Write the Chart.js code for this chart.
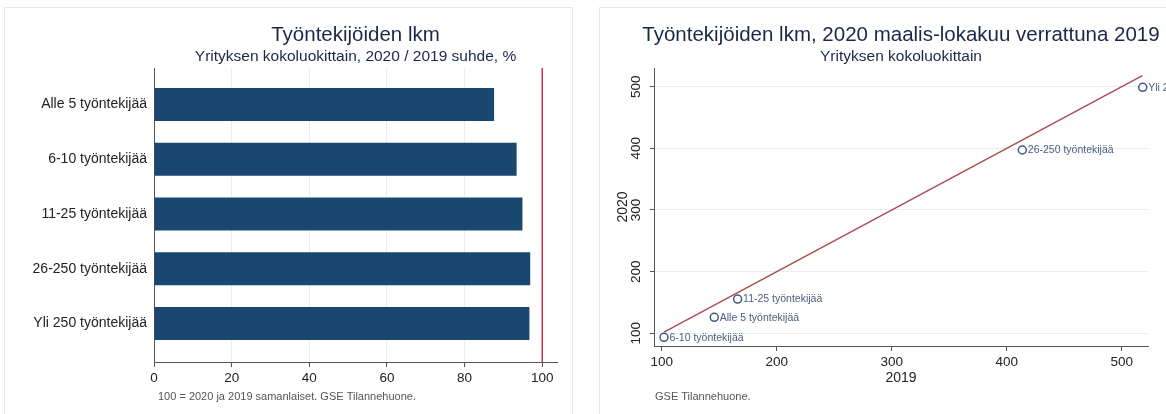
<!DOCTYPE html>
<html>
<head>
<meta charset="utf-8">
<script src="https://cdn.jsdelivr.net/npm/chart.js@4.4.0/dist/chart.umd.min.js"></script>
<style>
  body { margin: 0; background: #fff; width: 1166px; height: 414px; overflow: hidden; position: relative; }
  .panel { position: absolute; top: 7px; height: 420px; border: 1px solid #e3e9ec; box-sizing: border-box; }
  canvas { position: absolute; top: 0; }
</style>
</head>
<body>
<div class="panel" style="left:4px;width:569px"></div>
<div class="panel" style="left:599px;width:600px"></div>
<canvas id="ratioChart" width="580" height="414" style="left:0"></canvas>
<canvas id="scatterChart" width="580" height="414" style="left:586px"></canvas>
<script>
// size classes (same order in both panels)
const sizeClasses = ['Alle 5 työntekijää', '6-10 työntekijää', '11-25 työntekijää', '26-250 työntekijää', 'Yli 250 työntekijää'];

// left: 2020 / 2019 ratio, %
const ratioPct = [87.6, 93.4, 94.9, 96.9, 96.7];
const ratioTicks = [0, 20, 40, 60, 80, 100];
const sameLevel = 100;

// right: employee index 2019 vs 2020
const emp2019 = [145.7, 102, 166, 413.6, 518.3];
const emp2020 = [126, 93.5, 155.6, 397.3, 498.9];
const diagonal = [102, 518];
const scatterTicks = [100, 200, 300, 400, 500];

const FONT = '"Liberation Sans", Arial, sans-serif';
Chart.defaults.font.family = FONT;
Chart.defaults.color = '#222';

// titles + footnote, centred on the plot area
const notes = {
  id: 'notes',
  afterDraw(chart, args, opts) {
    const ctx = chart.ctx;
    const area = chart.chartArea;
    const cx = (area.left + area.right) / 2;
    ctx.save();
    ctx.textBaseline = 'middle';
    ctx.textAlign = 'center';
    ctx.fillStyle = '#1b2748';
    ctx.font = '20.5px ' + FONT;
    ctx.fillText(opts.title, cx, 35);
    ctx.font = '15.5px ' + FONT;
    ctx.fillText(opts.subtitle, cx, 57);
    ctx.textAlign = 'left';
    ctx.fillStyle = '#555';
    ctx.font = '11px ' + FONT;
    ctx.fillText(opts.footnote, area.left + opts.footX, 397);
    ctx.restore();
  }
};

// labels next to the scatter points
const pointLabels = {
  id: 'pointLabels',
  afterDatasetsDraw(chart) {
    const ctx = chart.ctx;
    const meta = chart.getDatasetMeta(0);
    ctx.save();
    ctx.font = '10.5px ' + FONT;
    ctx.fillStyle = '#4a5d7e';
    ctx.textBaseline = 'middle';
    meta.data.forEach((pt, i) => ctx.fillText(sizeClasses[i], pt.x + 5.5, pt.y + 0.5));
    ctx.restore();
  }
};

new Chart(document.getElementById('ratioChart'), {
  type: 'bar',
  data: {
    datasets: [{
      data: ratioPct.map((v, i) => ({ x: v, y: i })),
      backgroundColor: '#1a476f',
      categoryPercentage: 1,
      barPercentage: 0.6
    }, {
      type: 'line',
      data: [{ x: sameLevel, y: -0.667 }, { x: sameLevel, y: 4.703 }],
      borderColor: '#d8314f',
      borderWidth: 1.5,
      pointRadius: 0
    }]
  },
  options: {
    indexAxis: 'y',
    responsive: false,
    animation: false,
    layout: { padding: { top: 68, left: 0, right: 23, bottom: 22 } },
    plugins: {
      legend: { display: false },
      tooltip: { enabled: false },
      notes: {
        title: 'Työntekijöiden lkm',
        subtitle: 'Yrityksen kokoluokittain, 2020 / 2019 suhde, %',
        footnote: '100 = 2020 ja 2019 samanlaiset. GSE Tilannehuone.',
        footX: 4
      }
    },
    scales: {
      x: {
        type: 'linear',
        min: 0,
        max: 103.8,
        afterBuildTicks: ax => { ax.ticks = ratioTicks.map(v => ({ value: v })); },
        afterFit: ax => { ax.height = 30; },
        grid: { color: '#e6eef1', tickColor: '#555', tickLength: 5 },
        border: { color: '#555' },
        ticks: { font: { size: 13.5 }, padding: 3, maxRotation: 0 }
      },
      y: {
        type: 'linear',
        offset: false,
        reverse: true,
        min: -0.667,
        max: 4.703,
        afterBuildTicks: ax => { ax.ticks = sizeClasses.map((c, i) => ({ value: i })); },
        afterFit: ax => { ax.width = 154; },
        grid: { display: false, drawTicks: false, offset: false },
        border: { display: true, color: '#555' },
        ticks: { callback: v => sizeClasses[v], font: { size: 14 }, padding: 7 }
      }
    }
  },
  plugins: [notes]
});

new Chart(document.getElementById('scatterChart'), {
  type: 'scatter',
  data: {
    datasets: [{
      data: emp2019.map((v, i) => ({ x: v, y: emp2020[i] })),
      pointRadius: 4,
      pointBorderWidth: 1.5,
      pointBorderColor: '#3e5a80',
      pointBackgroundColor: 'rgba(0,0,0,0)'
    }, {
      type: 'line',
      data: diagonal.map(v => ({ x: v, y: v })),
      borderColor: '#ad4d52',
      borderWidth: 1.5,
      pointRadius: 0
    }]
  },
  options: {
    responsive: false,
    animation: false,
    layout: { padding: { top: 68, left: 0, right: 18, bottom: 26 } },
    plugins: {
      legend: { display: false },
      tooltip: { enabled: false },
      notes: {
        title: 'Työntekijöiden lkm, 2020 maalis-lokakuu verrattuna 2019',
        subtitle: 'Yrityksen kokoluokittain',
        footnote: 'GSE Tilannehuone.',
        footX: 1
      }
    },
    scales: {
      x: {
        min: 93.3,
        max: 522.9,
        afterBuildTicks: ax => { ax.ticks = scatterTicks.map(v => ({ value: v })); },
        afterFit: ax => { ax.height = 42; },
        grid: { drawOnChartArea: false, tickColor: '#555', tickLength: 5 },
        border: { color: '#555' },
        ticks: { font: { size: 13.5 }, padding: 3, maxRotation: 0 },
        title: { display: true, text: '2019', font: { size: 14 }, padding: { top: 0, bottom: 1.6 } }
      },
      y: {
        min: 79.4,
        max: 530.3,
        afterBuildTicks: ax => { ax.ticks = scatterTicks.map(v => ({ value: v })); },
        afterFit: ax => { ax.width = 68; },
        grid: { color: '#e6eef1', tickColor: '#555', tickLength: 4 },
        border: { color: '#555' },
        ticks: { font: { size: 13.5 }, minRotation: 90, maxRotation: 90, crossAlign: 'center', padding: 2.5 },
        title: { display: true, text: '2020', font: { size: 14 }, padding: { top: 28.6, bottom: 0 } }
      }
    }
  },
  plugins: [notes, pointLabels]
});
</script>
</body>
</html>
